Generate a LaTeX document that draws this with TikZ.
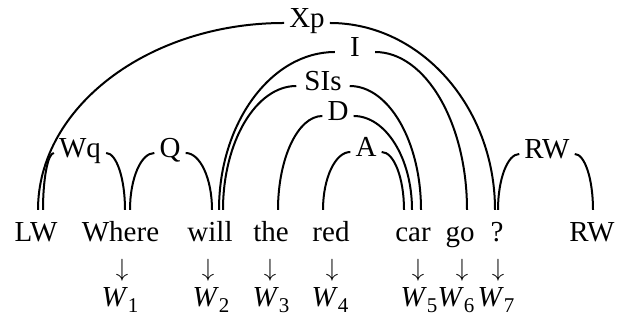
\documentclass[tikz,border=0pt]{standalone}
\usepackage{fontspec}
\setmainfont{Liberation Serif}
\usetikzlibrary{calc}
\newcommand{\wsub}[1]{\textit{W}\raisebox{-6pt}{\fontsize{21}{21}\selectfont #1}}
\tikzset{
  word/.style={font=\fontsize{29}{34}\selectfont, text height=20pt, text depth=6pt, inner xsep=0pt, inner ysep=12pt, anchor=base},
  lab/.style={font=\fontsize{29}{34}\selectfont, text height=10pt, text depth=0pt, inner xsep=5pt, inner ysep=0pt, anchor=base},
  darrow/.style={font=\fontsize{32}{36}\selectfont, inner sep=0pt},
  link/.style={line width=2pt},
  rise/.style={to path={.. controls ($(\tikztostart)!0.55!(\tikztostart|-\tikztotarget)$) and ($(\tikztotarget)!0.55!(\tikztostart|-\tikztotarget)$) .. (\tikztotarget) \tikztonodes}},
  fall/.style={to path={.. controls ($(\tikztostart)!0.55!(\tikztotarget|-\tikztostart)$) and ($(\tikztotarget)!0.55!(\tikztotarget|-\tikztostart)$) .. (\tikztotarget) \tikztonodes}}
}
\begin{document}
\begin{tikzpicture}[x=1pt, y=1pt]
\useasboundingbox (0,0) rectangle (618,320);
% Words
\node[word] (lw) at (36,78) {LW};
\node[word] (where) at (120.5,78) {Where};
\node[word] (will) at (210,78) {will};
\node[word] (the) at (271,78) {the};
\node[word] (red) at (331,78) {red};
\node[word] (car) at (413,78) {car};
\node[word] (go) at (460,78) {go};
\node[word] (qmark) at (497,78) {?};
\node[word] (rw) at (592,78) {RW};

% Link labels
\node[lab] (Xp) at (307,292) {Xp};
\node[lab, inner xsep=15pt] (I) at (355,263) {I};
\node[lab, inner xsep=8pt] (SIs) at (323,229) {SIs};
\node[lab] (D) at (338,199) {D};
\node[lab] (A) at (366,163) {A};
\node[lab] (Wq) at (80,162) {Wq};
\node[lab] (Q) at (170,162) {Q};
\node[lab] (RWl) at (547,161) {RW};

% Links
\draw[link] ([xshift=2pt]lw.north) to[rise] (Xp.west);
\draw[link] (Xp.east) to[fall] ([xshift=-2pt]qmark.north);
\draw[link] ([xshift=7pt]lw.north) to[rise] (Wq.west);
\draw[link] (Wq.east) to[fall] ([xshift=4.5pt]where.north);
\draw[link] ([xshift=9.5pt]where.north) to[rise] (Q.west);
\draw[link] (Q.east) to[fall] ([xshift=2pt]will.north);
\draw[link] ([xshift=9pt]will.north) to[rise] (I.west);
\draw[link] (I.east) to[fall] ([xshift=7pt]go.north);
\draw[link] ([xshift=13pt]will.north) to[rise] (SIs.west);
\draw[link] (SIs.east) to[fall] ([xshift=8pt]car.north);
\draw[link] ([xshift=7pt]the.north) to[rise] (D.west);
\draw[link] (D.east) to[fall] ([xshift=-1pt]car.north);
\draw[link] ([xshift=-8pt]red.north) to[rise] (A.west);
\draw[link] (A.east) to[fall] ([xshift=-9pt]car.north);
\draw[link] ([xshift=1pt]qmark.north) to[rise] (RWl.west);
\draw[link] (RWl.east) to[fall] ([xshift=1pt]rw.north);

% Arrows and word slots
\node[darrow] (a1) at (122,50) {$\downarrow$};
\node[darrow] (a2) at (208,50) {$\downarrow$};
\node[darrow] (a3) at (270,50) {$\downarrow$};
\node[darrow] (a4) at (332,50) {$\downarrow$};
\node[darrow] (a5) at (418,50) {$\downarrow$};
\node[darrow] (a6) at (462,50) {$\downarrow$};
\node[darrow] (a7) at (498,50) {$\downarrow$};
\node[lab] (w1) at (120,13) {\wsub{1}};
\node[lab] (w2) at (211,13) {\wsub{2}};
\node[lab] (w3) at (271,13) {\wsub{3}};
\node[lab] (w4) at (330,13) {\wsub{4}};
\node[lab] (w5) at (419,13) {\wsub{5}};
\node[lab] (w6) at (456,13) {\wsub{6}};
\node[lab] (w7) at (496,13) {\wsub{7}};
\end{tikzpicture}
\end{document}
